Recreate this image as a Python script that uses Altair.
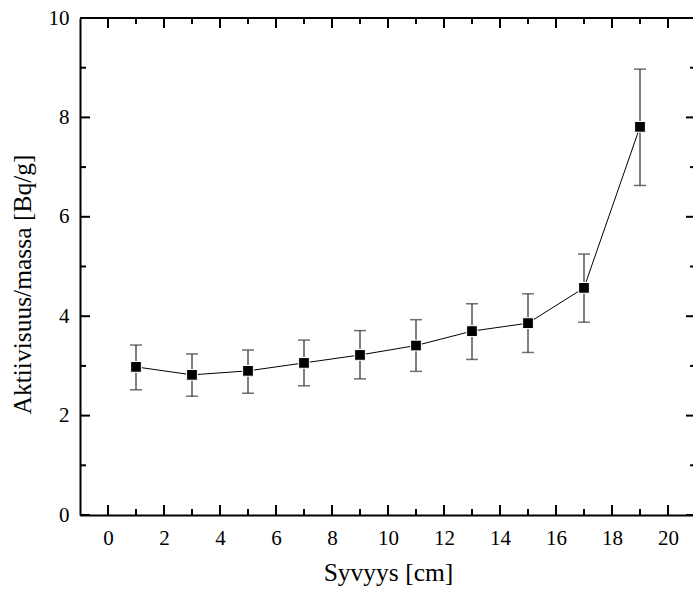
import altair as alt
import pandas as pd

# Depth profile of specific activity
depth = [1, 3, 5, 7, 9, 11, 13, 15, 17, 19]
activity = [2.98, 2.82, 2.90, 3.06, 3.22, 3.41, 3.70, 3.86, 4.57, 7.81]
err_low = [2.52, 2.39, 2.45, 2.60, 2.74, 2.89, 3.13, 3.27, 3.88, 6.63]
err_high = [3.42, 3.24, 3.32, 3.52, 3.71, 3.93, 4.25, 4.45, 5.25, 8.97]

x_major = [0, 2, 4, 6, 8, 10, 12, 14, 16, 18, 20]
x_minor = [1, 3, 5, 7, 9, 11, 13, 15, 17, 19]
y_major = [0, 2, 4, 6, 8, 10]
y_minor = [1, 3, 5, 7, 9]

W, H = 613, 497
FULL_W = 616  # frame continues slightly past the visible edge
FONT = "Liberation Serif"

df = pd.DataFrame({"d": depth, "a": activity, "lo": err_low, "hi": err_high})
xs = alt.Scale(domain=[-1, -1 + W / 28.0], nice=False, zero=False)
ys = alt.Scale(domain=[0, 10], nice=False, zero=False)

X_AXIS = alt.Axis(
    values=x_major, title="Syvyys [cm]", labelPadding=12,
    titleX=308, titleY=65, titleBaseline="alphabetic", titleAlign="center")
Y_AXIS = alt.Axis(
    values=y_major, title="Aktiivisuus/massa [Bq/g]", labelPadding=11,
    titleX=-50, titleY=266, titleBaseline="alphabetic", titleAlign="center", titleAngle=-90)


def X(field):
    return alt.X(field, scale=xs, axis=X_AXIS)


def Y(field):
    return alt.Y(field, scale=ys, axis=Y_AXIS)


base = alt.Chart(df)

line = base.mark_line(color="black", strokeWidth=1).encode(x=X("d:Q"), y=Y("a:Q"))

bars = base.mark_rule(color="#555555", strokeWidth=1.5).encode(
    x=X("d:Q"), y=Y("lo:Q"), y2="hi:Q")
cap_lo = base.mark_tick(color="#333333", thickness=1.5, size=12, orient="horizontal").encode(
    x=X("d:Q"), y=Y("lo:Q"))
cap_hi = base.mark_tick(color="#333333", thickness=1.5, size=12, orient="horizontal").encode(
    x=X("d:Q"), y=Y("hi:Q"))

points = base.mark_square(size=115, color="black", opacity=1, stroke="white", strokeWidth=1).encode(
    x=X("d:Q"), y=Y("a:Q"))


def xticks(vals, length):
    src = alt.Chart(pd.DataFrame({"t": vals}))
    bottom = src.mark_rule(color="black", strokeWidth=2).encode(
        x=X("t:Q"), y=alt.value(H), y2=alt.value(H - length))
    top = src.mark_rule(color="black", strokeWidth=2).encode(
        x=X("t:Q"), y=alt.value(0), y2=alt.value(length))
    return [bottom, top]


def yticks(vals, length):
    src = alt.Chart(pd.DataFrame({"t": vals}))
    left = src.mark_rule(color="black", strokeWidth=2).encode(
        y=Y("t:Q"), x=alt.value(0), x2=alt.value(length))
    right = src.mark_rule(color="black", strokeWidth=2).encode(
        y=Y("t:Q"), x=alt.value(FULL_W), x2=alt.value(FULL_W - length))
    return [left, right]


top_frame = alt.Chart(pd.DataFrame({"t": [0]})).mark_rule(color="black", strokeWidth=2).encode(
    x=alt.value(0), x2=alt.value(FULL_W), y=alt.value(0))

layers = [line, bars, cap_lo, cap_hi, points, top_frame]
layers += xticks(x_major, 10) + xticks(x_minor, 6) + yticks(y_major, 10) + yticks(y_minor, 6)

chart = alt.layer(*layers).properties(
    width=W, height=H,
    autosize=alt.AutoSizeParams(type="none"),
    padding={"left": 80, "top": 18, "right": 0, "bottom": 80},
    background="white",
).configure(font=FONT).configure_view(stroke=None).configure_axis(
    grid=False, ticks=False,
    domain=True, domainWidth=2, domainColor="black",
    labelFont=FONT, labelFontSize=21, labelColor="black",
    titleFont=FONT, titleFontSize=25.5, titleFontWeight="normal", titleColor="black",
)

chart.save("out.html", embed_options={"renderer": "svg", "actions": False})
